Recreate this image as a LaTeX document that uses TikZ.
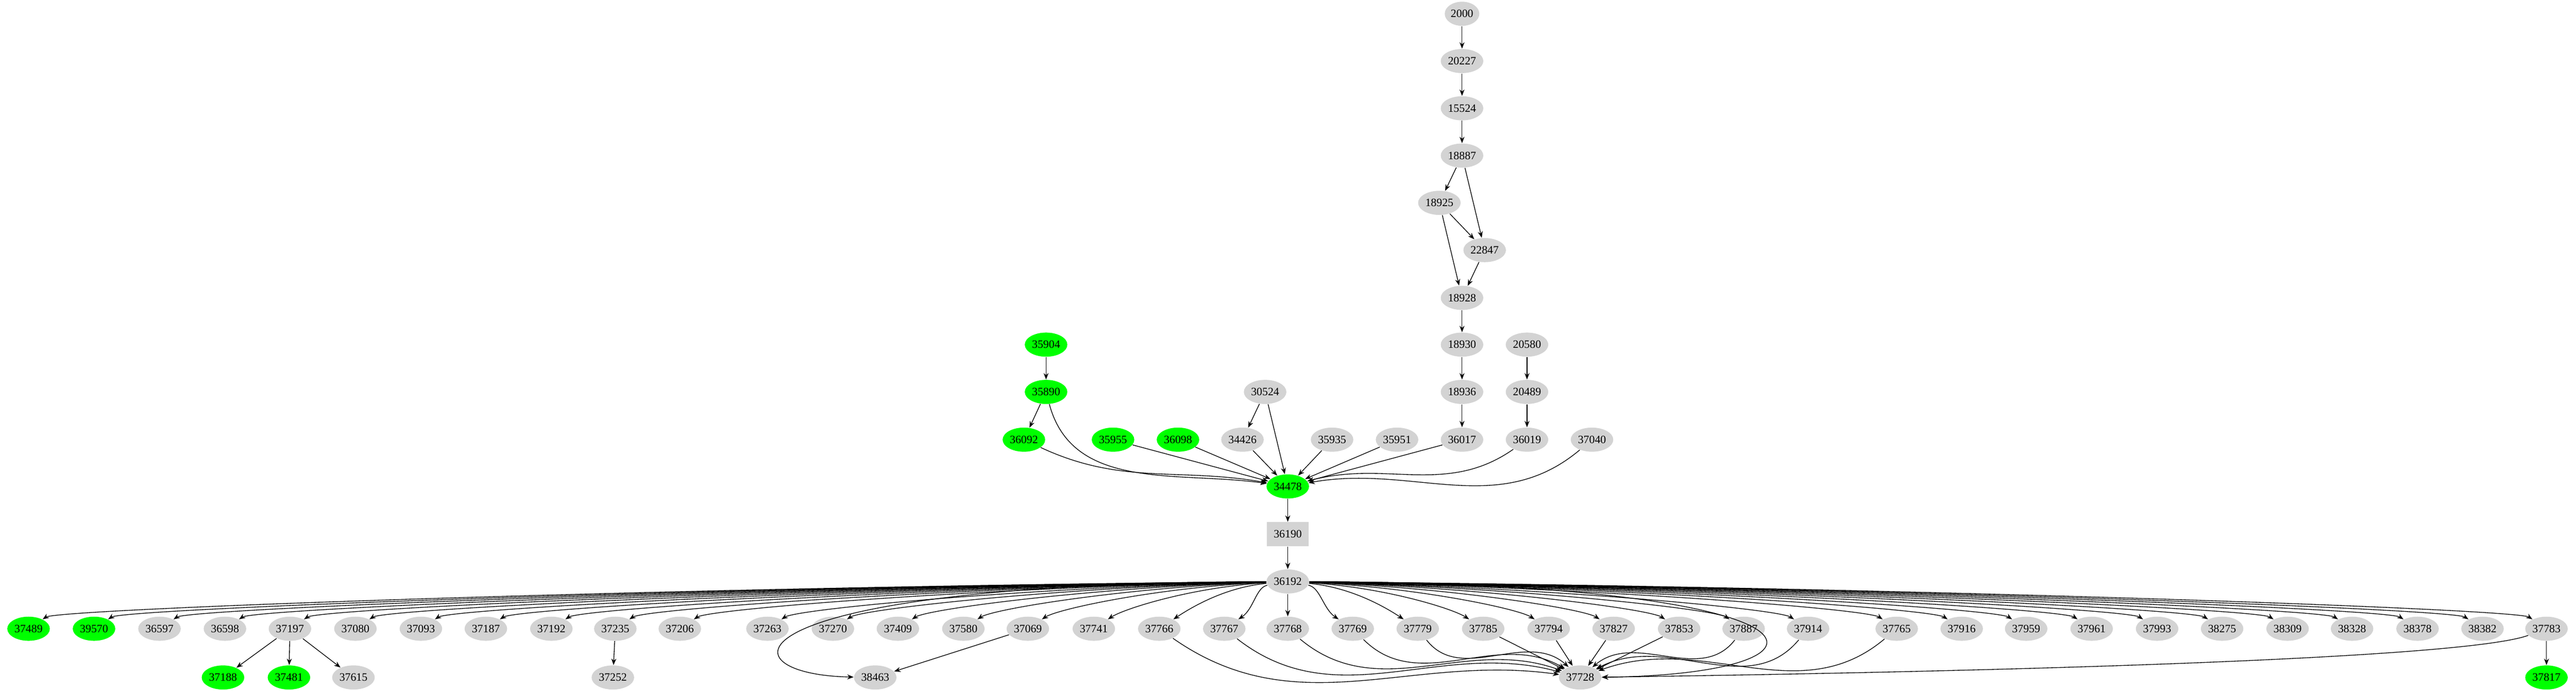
\documentclass[tikz,border=0pt]{standalone}
\usepackage{fontspec}
\setmainfont{Liberation Serif}
\usetikzlibrary{shapes.geometric,arrows.meta}
\begin{document}
\begin{tikzpicture}[
	x=1cm, y=-1cm,
	gr/.style={
		ellipse,
		fill={rgb,255:red,211;green,211;blue,211},
		inner xsep=0.02cm,
		inner ysep=0pt,
		minimum height=0.49cm,
		font=\fontsize{6.5}{7}\selectfont
	},
	gn/.style={
		gr,
		fill={rgb,255:red,0;green,255;blue,0}
	},
	box/.style={
		rectangle,
		fill={rgb,255:red,211;green,211;blue,211},
		minimum width=0.84cm,
		minimum height=0.49cm,
		inner sep=0pt,
		font=\fontsize{6.5}{7}\selectfont
	},
	edge/.style={
		line width=0.4pt,
		-{Stealth[length=1.3mm,width=1mm]}
	},
]
\useasboundingbox (0,0) rectangle (52.33,14.03);

% top chain
\foreach \n/\x/\y in {2000/29.70/0.28, 20227/29.70/1.24, 15524/29.70/2.20, 18887/29.70/3.16,
	18925/29.24/4.12, 22847/30.16/5.08, 18928/29.70/6.05, 18930/29.70/7.00, 20580/31.02/7.00,
	18936/29.70/7.96, 20489/31.02/7.96, 30524/25.70/7.96, 34426/25.24/8.93, 35935/27.06/8.93,
	35951/28.38/8.93, 36017/29.70/8.93, 36019/31.02/8.93, 37040/32.34/8.93}
	\node[gr] (n\n) at (\x,\y) {\n};

\foreach \n/\x/\y in {35904/21.25/7.00, 35890/21.25/7.96, 36092/20.80/8.93, 35955/22.61/8.93,
	36098/23.93/8.93, 34478/26.16/9.88}
	\node[gn] (n\n) at (\x,\y) {\n};

\node[box] (n36190) at (26.16,10.85) {36190};
\node[gr] (n36192) at (26.16,11.81) {36192};

% children of 36192
\foreach \n/\x/\s in {37489/0.58/gn, 39570/1.91/gn, 36597/3.24/gr, 36598/4.57/gr, 37197/5.89/gr,
	37080/7.22/gr, 37093/8.55/gr, 37187/9.87/gr, 37192/11.20/gr, 37235/12.50/gr, 37206/13.81/gr,
	37263/15.59/gr, 37270/16.92/gr, 37409/18.24/gr, 37580/19.57/gr, 37069/20.88/gr, 37741/22.22/gr,
	37766/23.55/gr, 37767/24.87/gr, 37768/26.16/gr, 37769/27.48/gr, 37779/28.80/gr, 37785/30.13/gr,
	37794/31.46/gr, 37827/32.78/gr, 37853/34.11/gr, 37887/35.42/gr, 37914/36.73/gr, 37765/38.53/gr,
	37916/39.85/gr, 37959/41.16/gr, 37961/42.49/gr, 37993/43.82/gr, 38275/45.14/gr, 38309/46.47/gr,
	38328/47.78/gr, 38378/49.11/gr, 38382/50.43/gr, 37783/51.73/gr}
{
	\node[\s] (n\n) at (\x,12.77) {\n};
	\pgfmathsetmacro\c{(\x-26.16)/2}
	\pgfmathsetmacro\e{\x>26.16 ? -0.6 : 0.6}
	\ifdim \x pt=26.16pt
		\draw[edge] (n36192) -- (n\n);
	\else
		\draw[edge] (n36192) .. controls +(\c,0.12) and +(\e,-0.4) .. (n\n);
	\fi
}

% bottom row
\foreach \n/\x/\s in {37188/4.53/gn, 37481/5.87/gn, 37615/7.18/gr, 37252/12.45/gr,
	38463/17.78/gr, 37728/32.10/gr, 37817/51.73/gn}
	\node[\s] (n\n) at (\x,13.76) {\n};

% edges
\foreach \a/\b in {2000/20227, 20227/15524, 15524/18887, 18887/18925, 18887/22847,
	18925/22847, 18925/18928, 22847/18928, 18928/18930, 18930/18936, 18936/36017,
	20580/20489, 20489/36019, 35904/35890, 35890/36092, 30524/34426, 30524/34478,
	35955/34478, 36098/34478, 34426/34478, 35935/34478, 35951/34478, 36017/34478,
	34478/36190, 36190/36192, 37197/37188, 37197/37481, 37197/37615, 37235/37252,
	37069/38463, 37785/37728, 37794/37728, 37827/37728, 37853/37728, 37783/37817}
	\draw[edge] (n\a) -- (n\b);

\draw[edge] (n35890) to[out=-75, in=172] (n34478);
\draw[edge] (n36092) to[out=-25, in=170] (n34478);
\draw[edge] (n36019) to[out=-145, in=15] (n34478);
\draw[edge] (n37040) to[out=-140, in=10] (n34478);

\foreach \a/\o/\i in {37766/-35/172, 37767/-38/165, 37768/-40/160, 37769/-45/150,
	37779/-52/138, 37887/-128/40, 37914/-130/28, 37765/-140/20}
	\draw[edge] (n\a) to[out=\o, in=\i] (n37728);

\draw[edge] (n36192) .. controls (14.6,11.85) and (14.6,13.7) .. (n38463);
\draw[edge] (n36192) .. controls (37.7,11.85) and (37.7,13.7) .. (n37728);
\draw[edge] (n37783) .. controls (50,13.4) and (40,13.65) .. (n37728);

\end{tikzpicture}
\end{document}
